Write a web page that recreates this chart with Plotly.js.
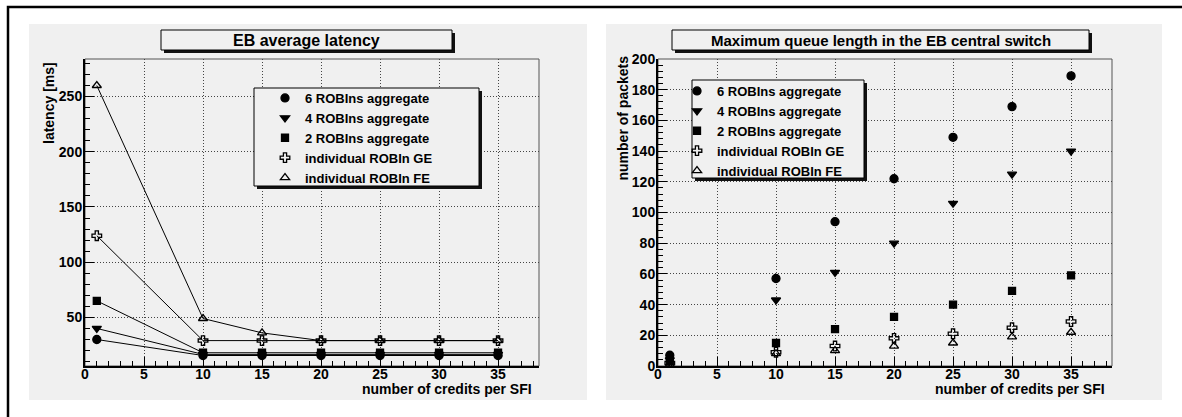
<!DOCTYPE html>
<html>
<head>
<meta charset="utf-8">
<script src="https://cdn.plot.ly/plotly-3.0.1.min.js"></script>
<style>html,body{margin:0;padding:0;background:#fff;}#chart{width:1182px;height:417px;}</style>
</head>
<body>
<div id="chart"></div>
<script>
// ---- data ----
var credits = [1, 10, 15, 20, 25, 30, 35];
var seriesNames = ['6 ROBIns aggregate', '4 ROBIns aggregate', '2 ROBIns aggregate', 'individual ROBIn GE', 'individual ROBIn FE'];

// EB average latency [ms]
var lat6 = [30, 15.5, 15.5, 15.5, 15.5, 15.5, 15.5];
var lat4 = [40, 16.5, 16.5, 16.5, 16.5, 16.5, 16.5];
var lat2 = [65, 18, 18, 18, 18, 18, 18];
var latGE = [124, 29, 29, 29, 29, 29, 29];
var latFE = [260, 49, 36, 29, 29, 29, 29];

// Maximum queue length [packets]
var q6 = [7, 57, 94, 122, 149, 169, 189];
var q4 = [4, 43, 61, 80, 106, 125, 140];
var q2 = [3, 15, 24, 32, 40, 49, 59];
var qGE = [2, 9, 13, 18, 21, 25, 29];
var qFE = [1, 8, 10, 13, 15, 19, 22];

var leftTitle = 'EB average latency';
var rightTitle = 'Maximum queue length in the EB central switch';
var xTitle = 'number of credits per SFI';
var yTitleLeft = 'latency [ms]';
var yTitleRight = 'number of packets';

// ---- styling ----
var W = 1182, H = 417;
function px(x) { return x / W; }
function py(y) { return (H - y) / H; }
var FONT = 'Liberation Sans, Arial, sans-serif';
var GRAY = '#f0f0f0';

var symbols = ['circle', 'triangle-down', 'square', 'cross-open', 'triangle-up-open'];
var sizes = [8, 8, 7, 8, 8];
var latSeries = [lat6, lat4, lat2, latGE, latFE];
var qSeries = [q6, q4, q2, qGE, qFE];

var traces = [];
latSeries.forEach(function (ys, i) {
  traces.push({
    x: credits, y: ys, xaxis: 'x', yaxis: 'y', mode: 'lines',
    line: { color: 'black', width: 1 }, showlegend: false, hoverinfo: 'skip'
  });
});
latSeries.forEach(function (ys, i) {
  traces.push({
    x: credits, y: ys, xaxis: 'x', yaxis: 'y', mode: 'markers', name: seriesNames[i],
    legend: 'legend',
    marker: { symbol: symbols[i], size: sizes[i], color: 'black', line: { color: 'black', width: 1.3 } }
  });
});
qSeries.forEach(function (ys, i) {
  traces.push({
    x: credits, y: ys, xaxis: 'x2', yaxis: 'y2', mode: 'markers', name: seriesNames[i],
    legend: 'legend2',
    marker: { symbol: symbols[i], size: sizes[i], color: 'black', line: { color: 'black', width: 1.3 } }
  });
});

var tickFont = { family: FONT, size: 14, color: 'black', weight: 700 };
function xAxis(domain, anchor) {
  return {
    domain: domain, anchor: anchor, range: [0, 38.47], tick0: 0, dtick: 5,
    ticks: 'inside', ticklen: 9, tickwidth: 1, tickcolor: 'black',
    minor: { dtick: 1, ticks: 'inside', ticklen: 5, tickwidth: 1, tickcolor: 'black', showgrid: false },
    showgrid: true, gridcolor: '#444', gridwidth: 1, griddash: '1px,2px',
    showline: true, linecolor: 'black', linewidth: 2, zeroline: false,
    tickfont: tickFont, ticklabelstandoff: -6, fixedrange: true
  };
}
function yAxis(domain, anchor, range, dtick, mdtick) {
  return {
    domain: domain, anchor: anchor, range: range, tick0: 0, dtick: dtick,
    ticks: 'inside', ticklen: 9, tickwidth: 1, tickcolor: 'black',
    minor: { dtick: mdtick, ticks: 'inside', ticklen: 5, tickwidth: 1, tickcolor: 'black', showgrid: false },
    showgrid: true, gridcolor: '#444', gridwidth: 1, griddash: '1px,2px',
    showline: true, linecolor: 'black', linewidth: 2, zeroline: false,
    tickfont: tickFont, ticklabelstandoff: -2, fixedrange: true
  };
}

var yDom = [py(366), py(59)];
var shapes = [
  { type: 'rect', xref: 'paper', yref: 'paper', x0: px(8), x1: px(1195), y0: py(7), y1: py(430),
    line: { color: 'black', width: 2.5 }, fillcolor: 'rgba(0,0,0,0)', layer: 'below' },
  { type: 'rect', xref: 'paper', yref: 'paper', x0: px(29), x1: px(587), y0: py(24), y1: py(400),
    line: { width: 0 }, fillcolor: GRAY, layer: 'below' },
  { type: 'rect', xref: 'paper', yref: 'paper', x0: px(606), x1: px(1162), y0: py(24), y1: py(400),
    line: { width: 0 }, fillcolor: GRAY, layer: 'below' },
  { type: 'rect', xref: 'x domain', yref: 'y domain', x0: 0, x1: 1, y0: 0, y1: 1,
    line: { color: '#555', width: 1 }, fillcolor: 'rgba(0,0,0,0)', layer: 'below' },
  { type: 'rect', xref: 'x2 domain', yref: 'y2 domain', x0: 0, x1: 1, y0: 0, y1: 1,
    line: { color: '#555', width: 1 }, fillcolor: 'rgba(0,0,0,0)', layer: 'below' }
];
function pave(x0, y0, x1, y1, off) {
  shapes.push({ type: 'rect', xref: 'paper', yref: 'paper', x0: px(x0 + off), x1: px(x1 + off), y0: py(y0 + off), y1: py(y1 + off),
    line: { width: 0 }, fillcolor: '#111', layer: 'above' });
  shapes.push({ type: 'rect', xref: 'paper', yref: 'paper', x0: px(x0), x1: px(x1), y0: py(y0), y1: py(y1),
    line: { color: 'black', width: 1 }, fillcolor: GRAY, layer: 'above' });
}
pave(161, 30, 452, 50, 3);
pave(672, 30, 1089, 50, 3);
pave(254, 88, 479, 186, 3);
pave(692, 80, 864, 178, 3);

var annFont = { family: FONT, size: 14, color: 'black', weight: 700 };
var annotations = [
  { text: leftTitle, xref: 'paper', yref: 'paper', x: px(306.5), y: py(40.5), xanchor: 'center', yanchor: 'middle',
    showarrow: false, font: { family: FONT, size: 16, color: 'black', weight: 700 } },
  { text: rightTitle, xref: 'paper', yref: 'paper', x: px(880.5), y: py(40.5), xanchor: 'center', yanchor: 'middle',
    showarrow: false, font: { family: FONT, size: 15, color: 'black', weight: 700 } },
  { text: xTitle, xref: 'paper', yref: 'paper', x: px(534), y: py(389), xanchor: 'right', yanchor: 'middle',
    showarrow: false, font: annFont },
  { text: xTitle, xref: 'paper', yref: 'paper', x: px(1107), y: py(389), xanchor: 'right', yanchor: 'middle',
    showarrow: false, font: annFont },
  { text: yTitleLeft, xref: 'paper', yref: 'paper', x: px(49), y: py(60), xanchor: 'center', yanchor: 'top',
    textangle: -90, showarrow: false, font: annFont },
  { text: yTitleRight, xref: 'paper', yref: 'paper', x: px(622), y: py(53), xanchor: 'center', yanchor: 'top',
    textangle: -90, showarrow: false, font: annFont }
];

var legFont = { family: FONT, size: 13, color: 'black', weight: 700 };
var layout = {
  width: W, height: H,
  margin: { l: 0, r: 0, t: 0, b: 0, pad: 0 },
  paper_bgcolor: 'white', plot_bgcolor: GRAY,
  showlegend: true, hovermode: false,
  xaxis: xAxis([px(85), px(539)], 'y'),
  yaxis: yAxis(yDom, 'x', [6, 284], 50, 10),
  xaxis2: xAxis([px(658), px(1112)], 'y2'),
  yaxis2: yAxis(yDom, 'x2', [0, 200], 20, 4),
  legend: { x: px(265), y: py(83), xanchor: 'left', yanchor: 'top', bgcolor: 'rgba(0,0,0,0)', borderwidth: 0, font: legFont },
  legend2: { x: px(677), y: py(76), xanchor: 'left', yanchor: 'top', bgcolor: 'rgba(0,0,0,0)', borderwidth: 0, font: legFont },
  shapes: shapes,
  annotations: annotations
};

Plotly.newPlot('chart', traces, layout, { staticPlot: true, displayModeBar: false });
</script>
</body>
</html>
